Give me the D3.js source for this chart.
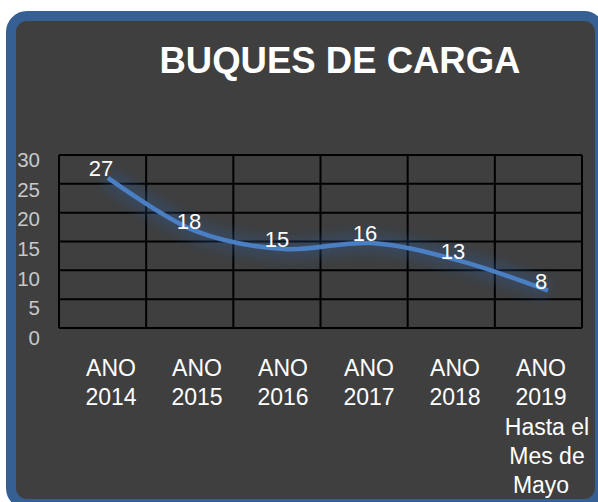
<!DOCTYPE html>
<html lang="es">
<head>
    <meta charset="UTF-8">
    <title>Buques de carga</title>
    <script src="https://d3js.org/d3.v7.min.js"></script>
    <style>
        body {
            margin: 0;
            padding: 0;
            background: #ffffff;
            font-family: "Liberation Sans", Arial, sans-serif;
        }
        svg {
            display: block;
        }
    </style>
</head>
<body>
    <svg id="chart" width="598" height="502"></svg>

    <script>
        // data
        const years = ["2014", "2015", "2016", "2017", "2018", "2019"];
        const categoryLines = [
            ["ANO", "2014"],
            ["ANO", "2015"],
            ["ANO", "2016"],
            ["ANO", "2017"],
            ["ANO", "2018"],
            ["ANO", "2019", "Hasta el", "Mes de", "Mayo"]
        ];
        const buques = [27, 18, 15, 16, 13, 8];
        const yTicks = [0, 5, 10, 15, 20, 25, 30];

        const svg = d3.select("#chart");

        // frame
        svg.append("rect")
            .attr("x", 11)
            .attr("y", 16)
            .attr("width", 589)
            .attr("height", 488)
            .attr("rx", 16)
            .attr("fill", "#3f3f3f")
            .attr("stroke", "#365f94")
            .attr("stroke-width", 10);

        svg.append("text")
            .attr("x", 340)
            .attr("y", 73)
            .attr("text-anchor", "middle")
            .attr("font-size", "36.5px")
            .attr("font-weight", "bold")
            .attr("fill", "#ffffff")
            .text("BUQUES DE CARGA");

        // scales
        const gridX = d3.scaleBand().domain(years).range([59, 582]);
        const gridY = d3.scaleLinear().domain([0, 30]).range([328, 155]);
        const y = d3.scaleLinear().domain([0, 30]).range([338, 160]);
        const x = d3.scalePoint().domain(years).range([108, 548]);
        const xLabel = d3.scalePoint().domain(years).range([111, 541]);

        // grid
        const grid = svg.append("g")
            .attr("stroke", "#000000")
            .attr("stroke-width", 2);

        grid.selectAll("line.h")
            .data(yTicks)
            .join("line")
            .attr("class", "h")
            .attr("x1", 59)
            .attr("x2", 582)
            .attr("y1", d => gridY(d))
            .attr("y2", d => gridY(d));

        grid.selectAll("line.v")
            .data(years.concat(["end"]))
            .join("line")
            .attr("class", "v")
            .attr("x1", d => d === "end" ? gridX.range()[1] : gridX(d))
            .attr("x2", d => d === "end" ? gridX.range()[1] : gridX(d))
            .attr("y1", 155)
            .attr("y2", 328);

        // y axis labels
        const yAxis = d3.axisLeft(y).tickValues(yTicks).tickSize(0).tickPadding(0);
        const yg = svg.append("g")
            .attr("transform", "translate(40,0)")
            .call(yAxis);
        yg.select(".domain").remove();
        yg.selectAll("text")
            .attr("fill", "#c8c8c8")
            .attr("font-size", "20.5px")
            .attr("font-family", "'Liberation Sans', Arial, sans-serif");

        // category labels
        const cats = svg.append("g")
            .attr("fill", "#ffffff")
            .attr("font-size", "23px")
            .attr("text-anchor", "middle");

        cats.selectAll("text")
            .data(years)
            .join("text")
            .attr("x", d => xLabel(d))
            .attr("y", 376)
            .each(function (d, i) {
                d3.select(this).selectAll("tspan")
                    .data(categoryLines[i])
                    .join("tspan")
                    .attr("x", j => xLabel(d) + (j.length > 4 ? 6 : 0))
                    .attr("dy", (j, k) => k === 0 ? 0 : 29.3)
                    .text(j => j);
            });

        // line with soft glow
        const defs = svg.append("defs");
        defs.append("filter")
            .attr("id", "glow")
            .attr("x", "-20%")
            .attr("y", "-50%")
            .attr("width", "140%")
            .attr("height", "200%")
            .append("feGaussianBlur")
            .attr("stdDeviation", 6);

        const line = d3.line()
            .x((d, i) => x(years[i]))
            .y(d => y(d))
            .curve(d3.curveCatmullRom.alpha(0.5));

        svg.append("path")
            .datum(buques)
            .attr("d", line)
            .attr("fill", "none")
            .attr("stroke", "#2f5c94")
            .attr("stroke-width", 20)
            .attr("stroke-opacity", 0.35)
            .attr("filter", "url(#glow)");

        svg.append("path")
            .datum(buques)
            .attr("d", line)
            .attr("fill", "none")
            .attr("stroke", "#4a7fc4")
            .attr("stroke-width", 4.5);

        // data labels
        svg.append("g")
            .selectAll("text")
            .data(buques)
            .join("text")
            .attr("x", (d, i) => x(years[i]) - 7)
            .attr("y", d => y(d) - 2)
            .attr("text-anchor", "middle")
            .attr("font-size", "22px")
            .attr("fill", "#ffffff")
            .text(d => d);
    </script>
</body>
</html>
